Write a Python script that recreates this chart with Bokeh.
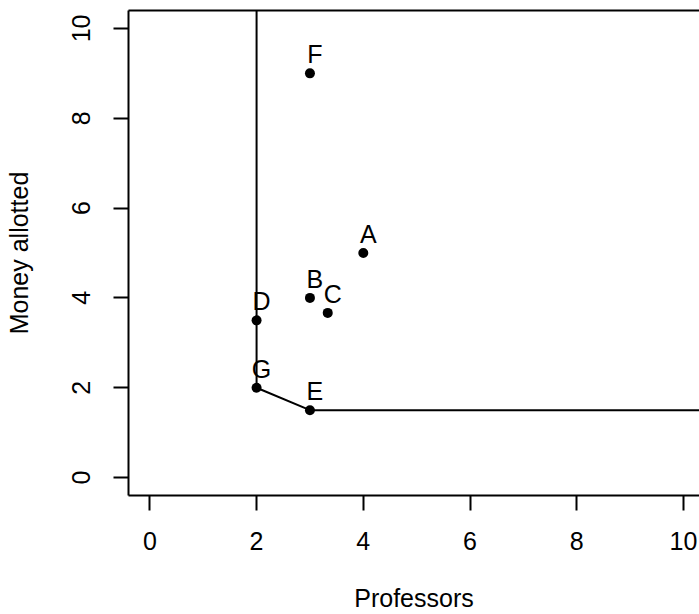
from bokeh.plotting import figure
from bokeh.models import Range1d, LinearAxis, FixedTicker, ColumnDataSource
from bokeh.embed import file_html
from bokeh.resources import INLINE
from bokeh.core.properties import value

# ---- data ----
labels = ["A", "B", "C", "D", "E", "F", "G"]
professors = [4, 3, 10 / 3, 2, 3, 3, 2]
money = [5, 4, 11 / 3, 3.5, 1.5, 9, 2]
frontier_x = [2, 2, 3, 11]
frontier_y = [11, 2, 1.5, 1.5]
x_ticks = [0, 2, 4, 6, 8, 10]
y_ticks = [0, 2, 4, 6, 8, 10]
x_title = "Professors"
y_title = "Money allotted"

FONT = "Liberation Sans"
FS = "25px"

p = figure(width=699, height=614, output_backend="svg", toolbar_location=None,
           x_range=Range1d(-0.4, 10.3), y_range=Range1d(-0.4, 10.4),
           min_border_left=128, min_border_right=0, min_border_top=10,
           min_border_bottom=119,
           x_axis_label=x_title, y_axis_label=y_title)
p.outline_line_color = None
p.grid.visible = False
p.background_fill_color = "white"
p.border_fill_color = "white"

for ax, tk in ((p.xaxis[0], x_ticks), (p.yaxis[0], y_ticks)):
    ax.ticker = FixedTicker(ticks=tk)
    ax.axis_line_width = 2
    ax.axis_line_color = "black"
    ax.major_tick_line_width = 2
    ax.major_tick_line_color = "black"
    ax.major_tick_out = 15
    ax.major_tick_in = 0
    ax.minor_tick_out = 0
    ax.minor_tick_in = 0
    ax.major_label_text_font = FONT
    ax.major_label_text_font_size = FS
    ax.major_label_text_color = "black"
    ax.axis_label_text_font = FONT
    ax.axis_label_text_font_size = FS
    ax.axis_label_text_font_style = "normal"
    ax.axis_label_text_color = "black"

p.xaxis[0].major_label_standoff = 21
p.xaxis[0].axis_label_standoff = 31
p.xaxis[0].axis_label_text_line_height = 0.8
p.yaxis[0].major_label_standoff = 23
p.yaxis[0].axis_label_standoff = 37
p.yaxis[0].major_label_orientation = "vertical"

top = LinearAxis(ticker=FixedTicker(ticks=[]), axis_line_width=2,
                 axis_line_color="black", major_tick_out=0, major_tick_in=0,
                 minor_tick_out=0, minor_tick_in=0)
p.add_layout(top, "above")

src = ColumnDataSource(dict(x=professors, y=money, label=labels))

p.line(frontier_x, frontier_y, line_color="black", line_width=2)
p.scatter("x", "y", source=src, size=10, fill_color="black", line_color=None)
p.text("x", "y", text="label", source=src, text_font=value(FONT),
       text_font_size=FS, text_color="black", text_align="center",
       text_baseline="alphabetic", x_offset=5, y_offset=-19)

open("out.html", "w").write(file_html(p, INLINE))
